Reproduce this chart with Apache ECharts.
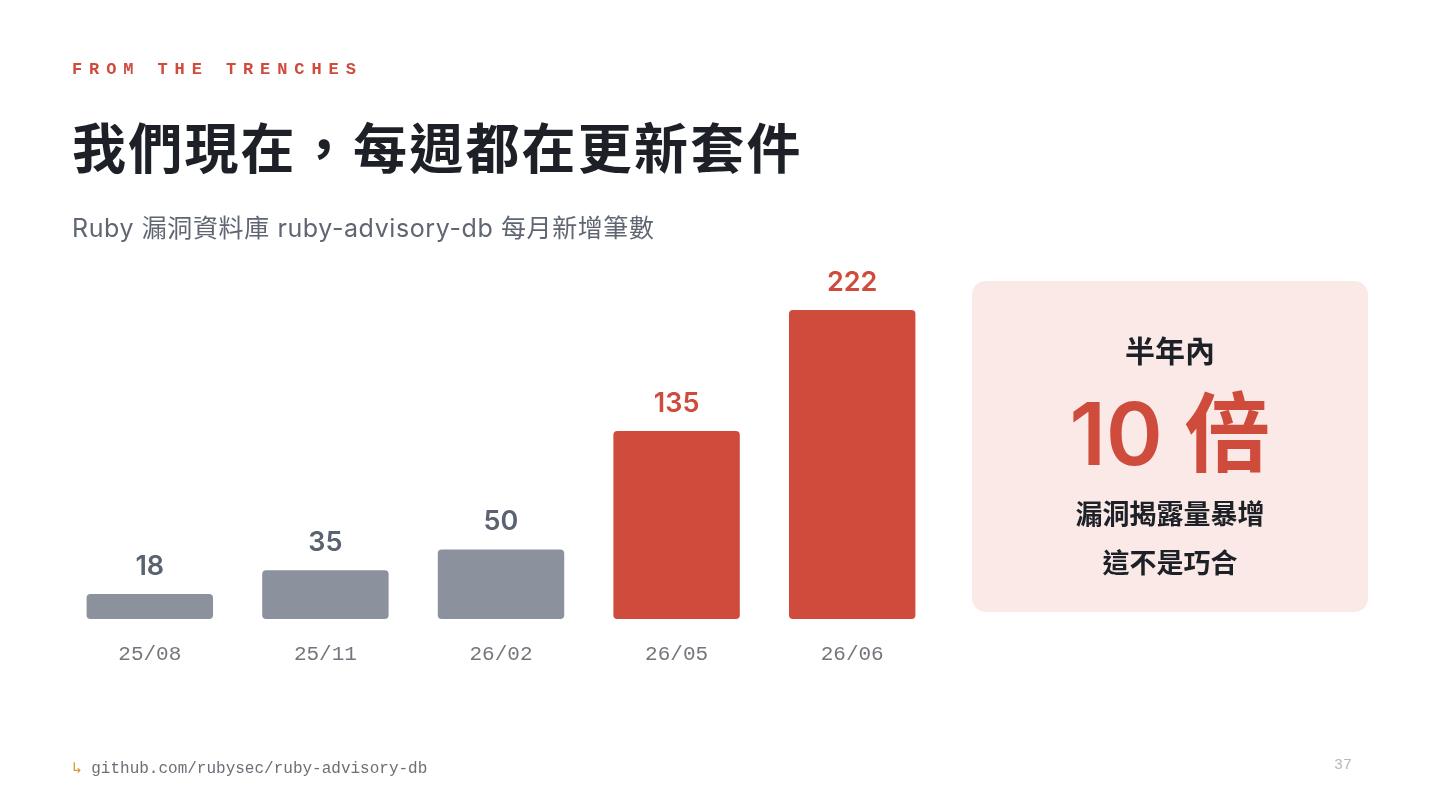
<!DOCTYPE html>
<html>
<head>
<meta charset="utf-8">
<script src="https://cdn.jsdelivr.net/npm/echarts@6/dist/echarts.min.js"></script>
<style>
  html, body { margin: 0; padding: 0; background: #fff; }
  #wrap { position: relative; width: 1440px; height: 810px; overflow: hidden; }
  #chart { position: absolute; left: 0; top: 0; width: 1440px; height: 810px; }
  .abs { position: absolute; white-space: nowrap; }
  .kicker { left: 72px; top: 60px; font: bold 17px "Liberation Mono", "DejaVu Sans Mono", monospace; color: #cf4b3c; letter-spacing: 6.9px; }
  .title { left: 72px; top: 106px; font: bold 54px "Noto Sans CJK TC", sans-serif; color: #1d2127; letter-spacing: 2.2px; }
  .sub { left: 72px; top: 208px; font: 25px "Inter", "Noto Sans CJK TC", sans-serif; color: #5f6672; letter-spacing: 0.6px; }
  .card { left: 972px; top: 281px; width: 396px; height: 331px; background: #fae9e6; border-radius: 14px; }
  .card div { position: absolute; left: 0; width: 100%; text-align: center; font-family: "Inter", "Noto Sans CJK TC", sans-serif; font-weight: bold; color: #1d2127; }
  .foot { left: 72px; top: 758px; font: 16px "Liberation Mono", monospace; color: #6b6f76; }
  .foot span { color: #d9963a; }
  .page { left: 1334px; top: 757px; font: 15px "Liberation Mono", monospace; color: #b5b8bd; }
</style>
</head>
<body>
<div id="wrap">
  <div id="chart"></div>
  <div class="abs kicker">FROM THE TRENCHES</div>
  <div class="abs title">我們現在，每週都在更新套件</div>
  <div class="abs sub">Ruby 漏洞資料庫 ruby-advisory-db 每月新增筆數</div>
  <div class="abs card">
    <div style="top:46px;font-size:30px;">半年內</div>
    <div style="top:98px;font-size:86px;line-height:110px;font-weight:600;color:#cf4b3c;">10 倍</div>
    <div style="top:212px;font-size:27px;">漏洞揭露量暴增</div>
    <div style="top:261px;font-size:27px;">這不是巧合</div>
  </div>
  <div class="abs foot"><span>↳</span> github.com/rubysec/ruby-advisory-db</div>
  <div class="abs page">37</div>
</div>
<script>
const months = ['25/08', '25/11', '26/02', '26/05', '26/06'];
const counts = [18, 35, 50, 135, 222];
const highlight = [false, false, false, true, true];

const GRAY = '#8b929d';
const RED = '#cf4b3c';

const chart = echarts.init(document.getElementById('chart'));

chart.setOption({
  animation: false,
  grid: { left: 62, width: 878, top: 271, bottom: 191 },
  xAxis: {
    type: 'category',
    data: months,
    axisLine: { show: false },
    axisTick: { show: false },
    axisLabel: {
      margin: 25,
      fontFamily: 'Liberation Mono',
      fontSize: 21,
      color: '#73777d'
    }
  },
  yAxis: {
    type: 'value',
    min: 0,
    max: 250,
    show: false,
    splitLine: { show: false }
  },
  series: [{
    type: 'bar',
    barWidth: '72%',
    data: counts.map((v, i) => ({
      value: v,
      itemStyle: { color: highlight[i] ? RED : GRAY, borderRadius: 4 },
      label: { color: highlight[i] ? RED : '#5b6270' }
    })),
    label: {
      show: true,
      position: 'top',
      distance: 14,
      fontFamily: 'Inter',
      fontWeight: 600,
      fontSize: 27
    }
  }]
});
</script>
</body>
</html>
